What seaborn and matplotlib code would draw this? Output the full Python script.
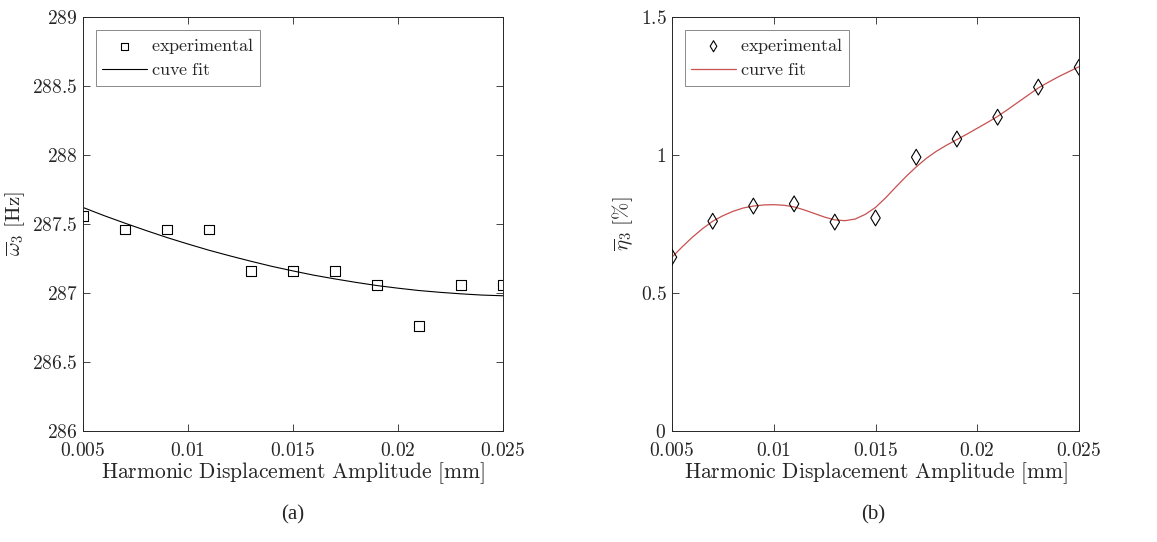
# Two-panel plot: frequency and damping vs harmonic amplitude
import numpy as np
import pandas as pd
import seaborn as sns
import matplotlib.pyplot as plt

# Experimental amplitudes [mm]
amplitude = [0.005, 0.007, 0.009, 0.011, 0.013, 0.015, 0.017, 0.019, 0.021, 0.023, 0.025]

# Panel (a): natural frequency [Hz]
freq_exp = [287.56, 287.46, 287.46, 287.46, 287.16, 287.16, 287.16, 287.06, 286.76, 287.06, 287.06]

# Panel (b): damping [%]
damp_exp = [0.63, 0.76, 0.815, 0.823, 0.757, 0.772, 0.992, 1.058, 1.137, 1.246, 1.318]

# Curve fit (a) at 0.001 mm steps
fit_x_a = [0.005, 0.006, 0.007, 0.008, 0.009, 0.010, 0.011, 0.012, 0.013, 0.014, 0.015,
           0.016, 0.017, 0.018, 0.019, 0.020, 0.021, 0.022, 0.023, 0.024, 0.025]
freq_fit = [287.620, 287.561, 287.506, 287.453, 287.402, 287.355, 287.310, 287.269,
            287.230, 287.193, 287.160, 287.129, 287.102, 287.077, 287.054, 287.035,
            287.018, 287.005, 286.994, 286.985, 286.980]

# Curve fit (b) at 0.0005 mm steps
fit_x_b = [0.0050, 0.0055, 0.0060, 0.0065, 0.0070, 0.0075, 0.0080, 0.0085, 0.0090, 0.0095,
           0.0100, 0.0105, 0.0110, 0.0115, 0.0120, 0.0125, 0.0130, 0.0135, 0.0140, 0.0145,
           0.0150, 0.0155, 0.0160, 0.0165, 0.0170, 0.0175, 0.0180, 0.0185, 0.0190, 0.0195,
           0.0200, 0.0205, 0.0210, 0.0215, 0.0220, 0.0225, 0.0230, 0.0235, 0.0240, 0.0245,
           0.0250]
damp_fit = [0.630, 0.667, 0.702, 0.733, 0.760, 0.780, 0.796, 0.808, 0.815, 0.819,
            0.820, 0.818, 0.812, 0.801, 0.788, 0.775, 0.765, 0.762, 0.768, 0.785,
            0.810, 0.845, 0.884, 0.922, 0.957, 0.988, 1.014, 1.036, 1.056, 1.076,
            1.097, 1.118, 1.140, 1.165, 1.191, 1.217, 1.243, 1.264, 1.284, 1.302,
            1.320]

x_ticks = [0.005, 0.01, 0.015, 0.02, 0.025]
x_tick_labels = ["0.005", "0.01", "0.015", "0.02", "0.025"]

sns.set_style("ticks")
plt.rcParams["font.family"] = ["Liberation Serif", "DejaVu Serif"]
plt.rcParams["mathtext.fontset"] = "cm"

exp_df_a = pd.DataFrame({"x": amplitude, "y": freq_exp})
exp_df_b = pd.DataFrame({"x": amplitude, "y": damp_exp})
fit_df_a = pd.DataFrame({"x": fit_x_a, "y": freq_fit})
fit_df_b = pd.DataFrame({"x": fit_x_b, "y": damp_fit})


def cm(txt):
    # render a plain string in Computer Modern roman
    return r"$\mathrm{" + txt.replace(" ", r"\ ") + "}$"


fig = plt.figure(figsize=(11.57, 5.42), dpi=100)
ax1 = fig.add_axes([0.0717, 0.2048, 0.363, 0.7638])
ax2 = fig.add_axes([0.5808, 0.2048, 0.3518, 0.7638])

axis_color = "#262626"

# Panel (a)
sns.scatterplot(data=exp_df_a, x="x", y="y", ax=ax1, marker="s", s=50,
                facecolor="none", edgecolor="black", linewidth=0.8,
                label="experimental", zorder=3)
sns.lineplot(data=fit_df_a, x="x", y="y", ax=ax1, color="black",
             linewidth=0.8, label="cuve fit")
ax1.set_ylim(286, 289)
y_ticks_a = [286, 286.5, 287, 287.5, 288, 288.5, 289]
ax1.set_yticks(y_ticks_a)
ax1.set_yticklabels([cm(f"{v:g}") for v in y_ticks_a])
ax1.set_ylabel(r"$\overline{\omega}_3\ \mathrm{[Hz]}$", fontsize=15, labelpad=4)

# Panel (b)
sns.scatterplot(data=exp_df_b, x="x", y="y", ax=ax2, marker="d", s=65,
                facecolor="none", edgecolor="black", linewidth=0.8,
                label="experimental", zorder=3)
sns.lineplot(data=fit_df_b, x="x", y="y", ax=ax2, color="#c85050",
             linewidth=0.9, label="curve fit")
ax2.set_ylim(0, 1.5)
y_ticks_b = [0, 0.5, 1, 1.5]
ax2.set_yticks(y_ticks_b)
ax2.set_yticklabels([cm(f"{v:g}") for v in y_ticks_b])
ax2.set_ylabel(r"$\overline{\eta}_3\ \mathrm{[\%]}$", fontsize=15, labelpad=4)

for ax in (ax1, ax2):
    ax.set_xlim(0.005, 0.025)
    ax.set_xticks(x_ticks)
    ax.set_xticklabels([cm(t) for t in x_tick_labels])
    ax.set_xlabel(cm("Harmonic Displacement Amplitude [mm]"), fontsize=15.5, labelpad=0)
    ax.tick_params(direction="in", top=True, right=True, length=5,
                   width=0.6, color=axis_color, labelsize=14)
    ax.tick_params(axis="x", pad=8)
    ax.tick_params(axis="y", pad=4)
    for spine in ax.spines.values():
        spine.set_visible(True)
        spine.set_linewidth(0.7)
        spine.set_color(axis_color)
    leg = ax.legend(loc="upper left", frameon=True, fancybox=False,
                    edgecolor="#555555", borderaxespad=0.7, handlelength=2.5,
                    handletextpad=0.2, labelspacing=0.3, borderpad=0.35,
                    markerscale=0.7, prop={"family": "DejaVu Serif", "size": 13})
    for t in leg.get_texts():
        t.set_text(cm(t.get_text()))
    leg.get_frame().set_linewidth(0.6)

fig.text(0.2532, 0.050, "(a)", ha="center", va="center", fontsize=15)
fig.text(0.7545, 0.050, "(b)", ha="center", va="center", fontsize=15)

fig.savefig("out.png", dpi=100)
